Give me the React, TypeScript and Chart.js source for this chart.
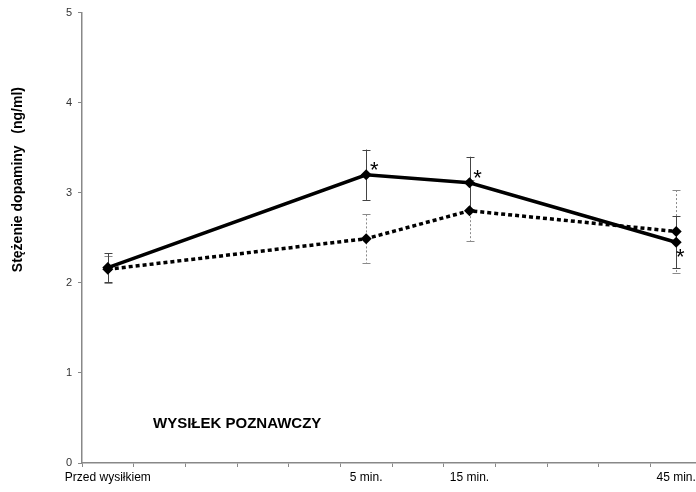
import { useEffect, useRef } from 'react';
import { Chart, registerables } from 'chart.js';

Chart.register(...registerables);

// ---- data ----
const slotCount = 12; // category slots on the x axis
const timeLabels = ['Przed wysiłkiem', '5 min.', '15 min.', '45 min.'];
const timeSlots = [0, 5, 7, 11];
const solidMeans = [2.17, 3.2, 3.11, 2.45];
const solidErr = [0.16, 0.28, 0.29, 0.29];
const dottedMeans = [2.15, 2.49, 2.8, 2.57];
const dottedErr = [0.15, 0.27, 0.34, 0.46];
const significantSolid = [1, 2, 3]; // indices of time points marked with *
const yTicks = [0, 1, 2, 3, 4, 5];
const yTitle = 'Stężenie dopaminy   (ng/ml)';
const panelLabel = 'WYSIŁEK POZNAWCZY';

const FONT = "'Liberation Sans', Arial, sans-serif";
const CANVAS_W = 702;
const CANVAS_H = 492;

function expand(vals: number[]): (number | null)[] {
  const out: (number | null)[] = new Array(slotCount).fill(null);
  timeSlots.forEach((s, i) => (out[s] = vals[i]));
  return out;
}

const categories: string[] = new Array(slotCount).fill('');
timeSlots.forEach((s, i) => (categories[s] = timeLabels[i]));

const errorBarPlugin = {
  id: 'errorBars',
  beforeDatasetsDraw(chart: any) {
    const ctx = chart.ctx;
    const y = chart.scales.y;
    const sets = [
      { ds: 1, means: dottedMeans, err: dottedErr, color: '#8a8a8a', dash: [2, 2] },
      { ds: 0, means: solidMeans, err: solidErr, color: '#444', dash: [] as number[] },
    ];
    ctx.save();
    sets.forEach((s) => {
      const meta = chart.getDatasetMeta(s.ds);
      s.means.forEach((m, i) => {
        const el = meta.data[timeSlots[i]];
        if (!el) return;
        const x = Math.round(el.x) + 0.5;
        const t = y.getPixelForValue(m + s.err[i]);
        const b = y.getPixelForValue(m - s.err[i]);
        ctx.strokeStyle = s.color;
        ctx.lineWidth = 1;
        ctx.setLineDash(s.dash);
        ctx.beginPath();
        ctx.moveTo(x, t);
        ctx.lineTo(x, b);
        ctx.stroke();
        ctx.setLineDash([]);
        ctx.beginPath();
        ctx.moveTo(x - 4, Math.round(t) + 0.5);
        ctx.lineTo(x + 4, Math.round(t) + 0.5);
        ctx.moveTo(x - 4, Math.round(b) + 0.5);
        ctx.lineTo(x + 4, Math.round(b) + 0.5);
        ctx.stroke();
      });
    });
    ctx.restore();
  },
};

const annotationPlugin = {
  id: 'annotations',
  afterDatasetsDraw(chart: any) {
    const ctx = chart.ctx;
    const area = chart.chartArea;
    const meta = chart.getDatasetMeta(0);
    ctx.save();
    // asterisks
    ctx.fillStyle = '#000';
    ctx.font = `22px ${FONT}`;
    ctx.textAlign = 'center';
    ctx.textBaseline = 'middle';
    significantSolid.forEach((i) => {
      const el = meta.data[timeSlots[i]];
      if (!el) return;
      const last = i === timeSlots.length - 1;
      const dx = last ? 4 : 8;
      const dy = last ? 16 : -4;
      ctx.fillText('*', el.x + dx, el.y + dy);
    });
    // panel label
    ctx.font = `bold 15px ${FONT}`;
    ctx.textAlign = 'left';
    ctx.fillText(panelLabel, area.left + 71, area.top + 411);
    // y title
    ctx.translate(18, area.top + 167);
    ctx.rotate(-Math.PI / 2);
    ctx.font = `bold 14px ${FONT}`;
    ctx.textAlign = 'center';
    ctx.fillText(yTitle, 0, 0);
    ctx.restore();
  },
};

export default function App() {
  const ref = useRef<HTMLCanvasElement>(null);
  useEffect(() => {
    document.body.style.margin = '0';
    const canvas = ref.current as HTMLCanvasElement;
    const chart = new Chart(canvas, {
      type: 'line',
      data: {
        labels: categories,
        datasets: [
          {
            label: 'solid',
            data: expand(solidMeans),
            borderColor: '#000',
            backgroundColor: '#000',
            borderWidth: 3.5,
            pointStyle: 'rectRot',
            pointRadius: 5.5,
            pointBackgroundColor: '#000',
            pointBorderColor: '#000',
            pointBorderWidth: 0,
            spanGaps: true,
            tension: 0,
          },
          {
            label: 'dotted',
            data: expand(dottedMeans),
            borderColor: '#000',
            backgroundColor: '#000',
            borderWidth: 3.5,
            borderDash: [4, 3],
            borderCapStyle: 'butt',
            pointStyle: 'rectRot',
            pointRadius: 5.5,
            pointBackgroundColor: '#000',
            pointBorderColor: '#000',
            pointBorderWidth: 0,
            spanGaps: true,
            tension: 0,
          },
        ],
      },
      options: {
        animation: false,
        responsive: false,
        maintainAspectRatio: false,
        devicePixelRatio: 1,
        layout: { autoPadding: false, padding: { top: 11, left: 0, right: 0, bottom: 0 } },
        plugins: { legend: { display: false }, tooltip: { enabled: false } },
        scales: {
          x: {
            type: 'category',
            offset: true,
            grid: {
              offset: true,
              drawOnChartArea: false,
              drawTicks: true,
              tickLength: 4,
              color: '#888',
              tickColor: '#888',
            },
            border: { color: '#888', width: 1.5 },
            ticks: {
              autoSkip: false,
              maxRotation: 0,
              minRotation: 0,
              padding: 3,
              color: '#000',
              font: { family: FONT, size: 12 },
            },
            afterFit: (s: any) => {
              s.height = 29;
            },
          },
          y: {
            min: 0,
            max: 5,
            afterBuildTicks: (s: any) => {
              s.ticks = yTicks.map((v) => ({ value: v }));
            },
            ticks: { padding: 6, color: '#333', font: { family: FONT, size: 11 } },
            grid: { drawOnChartArea: false, tickLength: 4, color: '#888', tickColor: '#888' },
            border: { color: '#888', width: 1.5 },
            afterFit: (s: any) => {
              s.width = 82;
            },
          },
        },
      },
      plugins: [errorBarPlugin, annotationPlugin],
    } as any);
    return () => chart.destroy();
  }, []);
  return (
    <div style={{ width: 696, height: 492, overflow: 'hidden' }}>
      <canvas ref={ref} width={CANVAS_W} height={CANVAS_H} style={{ width: CANVAS_W, height: CANVAS_H, display: 'block' }} />
    </div>
  );
}
